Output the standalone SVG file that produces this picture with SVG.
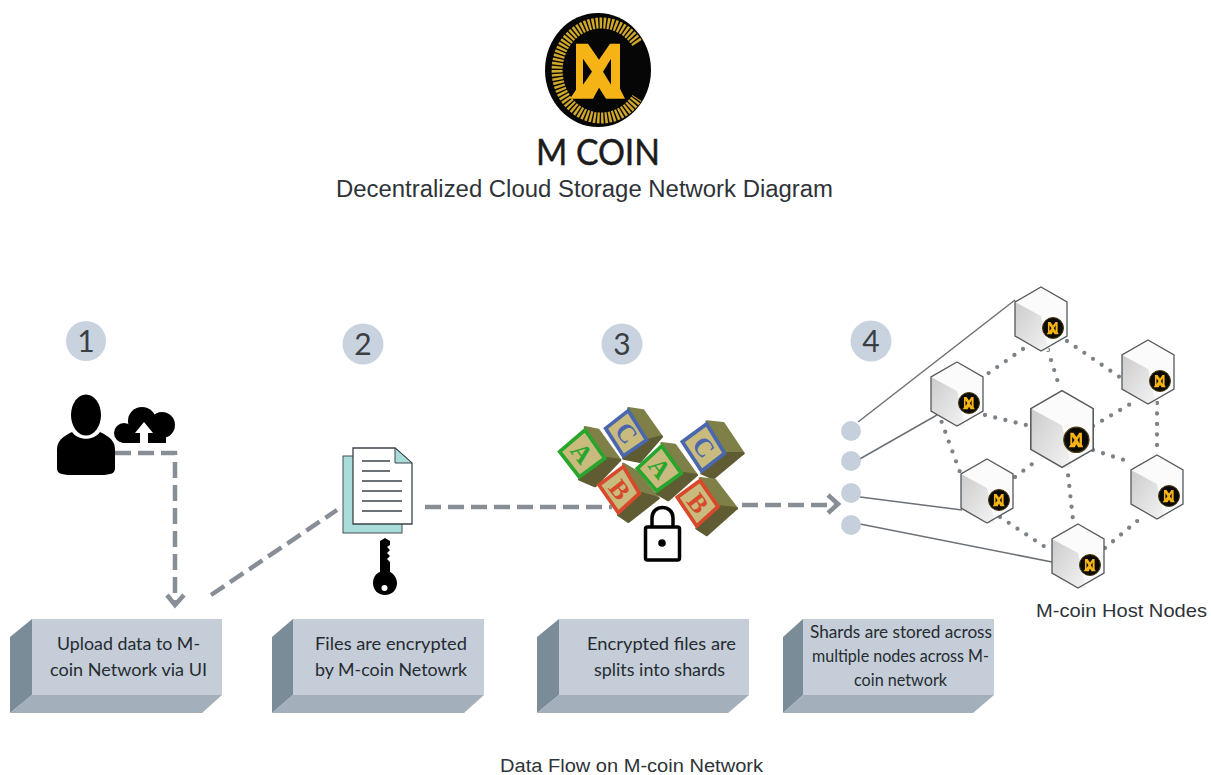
<svg xmlns="http://www.w3.org/2000/svg" width="1211" height="775" viewBox="0 0 1211 775">
<style>
text{font-family:"Liberation Sans",Arial,sans-serif;fill:#2e3338}
.t{text-anchor:middle}
.lab{font-family:Lato,"Open Sans",sans-serif;font-size:18px;text-anchor:middle;fill:#262b30}
.num{font-family:Lato,"Open Sans",sans-serif;font-size:30px;text-anchor:middle;fill:#3a3f44}
.badge{fill:#c9d3df}
.face{fill:#c4cdd8}.side{fill:#7b8c99}.under{fill:#a3afbb}
.flow{fill:none;stroke:#878e95;stroke-width:4.500;stroke-dasharray:16 7}
.head{fill:none;stroke:#878e95;stroke-width:4.500}
.mesh{fill:none;stroke:#7d8287;stroke-width:4.300;stroke-linecap:round;stroke-dasharray:0 10.500}
.wire{fill:none;stroke:#6c7176;stroke-width:1.500}
.port{fill:#c5d0dc}
.blk-text{font-family:"Liberation Serif",serif;font-weight:bold;font-size:78px;text-anchor:middle}
.tan{fill:#c9bb7e}
.r{fill:#7f8048;stroke:#7f8048;stroke-width:8;stroke-linejoin:round}
.u{fill:#5f5c33;stroke:#5f5c33;stroke-width:8;stroke-linejoin:round}
</style>
<defs>
<linearGradient id="cubeL" x1="0" y1="0" x2="1" y2="1"><stop offset="0" stop-color="#cbcbcb"/><stop offset="1" stop-color="#f4f4f4"/></linearGradient>
<g id="mglyph">
<polygon fill="#f5b316" points="-23,-27 -11,-27 0,-11 11,-27 21,-27 21,18 26,28 7,28 0,17 -6,28 -29,28 -23,19"/>
<polygon fill="#050505" points="-16,-12 -7,1 -16,14"/>
<polygon fill="#050505" points="12,-12 4,1 12,14"/>
</g>
<g id="cube">
<polygon points="0,-32 26,-17 26,17 0,32 -26,17 -26,-17" fill="#fbfbfb"/>
<polygon points="-26,-17 0,-3 8,32 0,32 -26,17" fill="url(#cubeL)"/>
<polygon points="0,-32 26,-17 26,17 0,32 -26,17 -26,-17" fill="none" stroke="#55595c" stroke-width="1.300"/>
<circle cx="12" cy="9" r="10.500" fill="#0c0a04" stroke="#4a3c10" stroke-width="1"/>
<use href="#mglyph" transform="translate(12,9) scale(.22)"/>
</g>
</defs>
<rect width="1211" height="775" fill="#fff"/>

<g id="connectors">
<path class="flow" d="M115 453H175V604"/>
<path class="head" d="M167 595L175 605L184 595"/>
<path class="flow" d="M211 595L337 510"/>
<path class="flow" d="M425 507H612"/>
<path class="flow" d="M742 505H836"/>
<path class="head" d="M828 495L838 504L828 513"/>
<path class="wire" d="M858 422L1015 300"/>
<path class="wire" d="M858 460L937 415"/>
<path class="wire" d="M860 497L962 510"/>
<path class="wire" d="M860 524L1052 562"/>
<path class="mesh" d="M1023 349L983 377"/>
<path class="mesh" d="M1048 350L1060 389"/>
<path class="mesh" d="M1067 341L1121 378"/>
<path class="mesh" d="M985 415L1030 426"/>
<path class="mesh" d="M1093 426L1137 400"/>
<path class="mesh" d="M1157 403V455"/>
<path class="mesh" d="M1093 450L1130 462"/>
<path class="mesh" d="M938 412L961 475"/>
<path class="mesh" d="M1015 477L1040 458"/>
<path class="mesh" d="M1067 465L1073 520"/>
<path class="mesh" d="M1000 517L1045 547"/>
<path class="mesh" d="M1105 548L1142 517"/>
</g>

<g id="logo">
<ellipse cx="598" cy="70" rx="53" ry="57" fill="#060606"/>
<path d="M637 43A44 47.500 0 1 0 637 98" fill="none" stroke="#d0a82a" stroke-width="11" stroke-dasharray="2.400 1.400"/>
<use href="#mglyph" transform="translate(599,70.700)"/>
<text x="598" y="165" class="t" style="font-family:Lato,'Open Sans',sans-serif;fill:#1c1c1c;stroke:#1c1c1c;stroke-width:.5" font-size="36" textLength="124" lengthAdjust="spacingAndGlyphs">M COIN</text>
<text x="584.500" y="197" class="t" font-size="23.500" textLength="497" lengthAdjust="spacingAndGlyphs">Decentralized Cloud Storage Network Diagram</text>
</g>

<g id="step1">
<circle class="badge" cx="86" cy="341" r="20"/><text class="num" x="86" y="352">1</text>
<ellipse cx="86" cy="415" rx="15" ry="20.500" fill="#000"/>
<path d="M72 432C78 441 94 441 100 432C110 437 115 441 115 450V468C115 473 112 475 100 475H72C60 475 57 473 57 468V450C57 441 62 437 72 432Z" fill="#000"/>
<circle cx="124" cy="433" r="10" fill="#000"/><circle cx="142" cy="421" r="14" fill="#000"/><circle cx="162" cy="425" r="13" fill="#000"/>
<rect x="122" y="428" width="44" height="15" fill="#000"/>
<path d="M144 422L135 433H140V444H148V433H153Z" fill="#fff"/>
</g>

<g id="step1-label">
<polygon class="side" points="10,637 32,619 32,695 10,713"/>
<polygon class="under" points="10,713 32,695 222,695 202,713"/>
<rect class="face" x="32" y="619" width="190" height="76"/>
<text class="lab" x="128.500" y="650" textLength="143" lengthAdjust="spacingAndGlyphs">Upload data to M-</text>
<text class="lab" x="128.500" y="676" textLength="157" lengthAdjust="spacingAndGlyphs">coin Network via UI</text>
</g>

<g id="step2">
<circle class="badge" cx="363" cy="344" r="20.500"/><text class="num" x="363" y="355">2</text>
<rect x="343" y="456" width="59" height="77" fill="#abdcdc" stroke="#45504f" stroke-width="1"/>
<path d="M353 448H395L412 463V524H353Z" fill="#fff" stroke="#3d4448" stroke-width="1.300"/>
<path d="M395 448L412 463H395Z" fill="#abdcdc" stroke="#3d4448" stroke-width="1"/>
<path d="M362 461H390M362 471H390M362 481H402M362 491H402M362 501H402M362 511H402" stroke="#3d4448" stroke-width="1.300" fill="none"/>
<path d="M380 541L385 538L390 541V545L387 547L390 550L387 553L390 556L387 559L390 562V572C393 573 397 578 397 583C397 590 392 595 385 595C378 595 373 590 373 583C373 578 376 573 380 572Z" fill="#000"/>
<circle cx="384.500" cy="588" r="3" fill="#fff"/>
</g>

<g id="step2-label">
<polygon class="side" points="272,637 293,619 293,695 272,713"/>
<polygon class="under" points="272,713 293,695 484,695 464,713"/>
<rect class="face" x="293" y="619" width="191" height="76"/>
<text class="lab" x="391" y="650" textLength="152" lengthAdjust="spacingAndGlyphs">Files are encrypted</text>
<text class="lab" x="391" y="676" textLength="152" lengthAdjust="spacingAndGlyphs">by M-coin Netowrk</text>
</g>

<g id="step3">
<circle class="badge" cx="622" cy="344" r="20.500"/><text class="num" x="622" y="355">3</text>
<g transform="translate(540,390) scale(.3333)">
<g id="block-c1">
<polygon class="r" points="265,55 310,62 365,140 325,150"/><polygon class="u" points="250,205 300,215 365,140 325,150"/>
<polygon class="tan" points="197,115 265,62 320,150 250,198" stroke="#4a66ad" stroke-width="11"/>
<text class="blk-text" style="fill:#4a66ad" transform="translate(258,130) rotate(52)" y="25">C</text>
</g>
<g id="block-a1">
<polygon class="r" points="135,112 175,120 240,210 200,205"/><polygon class="u" points="118,268 165,288 240,210 200,205"/>
<polygon class="tan" points="59,185 135,120 194,205 118,261" stroke="#27a52c" stroke-width="11"/>
<text class="blk-text" style="fill:#27a52c" transform="translate(125,190) rotate(52)" y="25">A</text>
</g>
<g id="block-b1">
<polygon class="r" points="250,222 290,245 355,325 305,310"/><polygon class="u" points="235,375 265,395 355,325 305,310"/>
<polygon class="tan" points="177,285 250,230 298,310 235,368" stroke="#d8482a" stroke-width="11"/>
<text class="blk-text" style="fill:#d8482a" transform="translate(238,300) rotate(52)" y="25">B</text>
</g>
<g id="block-a2">
<polygon class="r" points="365,160 405,165 470,255 430,250"/><polygon class="u" points="350,310 385,330 470,255 430,250"/>
<polygon class="tan" points="292,235 365,168 424,250 350,303" stroke="#27a52c" stroke-width="11"/>
<text class="blk-text" style="fill:#27a52c" transform="translate(358,235) rotate(52)" y="25">A</text>
</g>
<g id="block-c2">
<polygon class="r" points="500,95 550,100 610,190 560,190"/><polygon class="u" points="485,250 520,265 610,190 560,190"/>
<polygon class="tan" points="427,155 500,102 554,190 485,243" stroke="#4a66ad" stroke-width="11"/>
<text class="blk-text" style="fill:#4a66ad" transform="translate(490,172) rotate(52)" y="25">C</text>
</g>
<g id="block-b2">
<polygon class="r" points="480,265 525,270 590,355 540,350"/><polygon class="u" points="470,415 500,435 590,355 540,350"/>
<polygon class="tan" points="412,322 480,272 534,350 470,408" stroke="#d8482a" stroke-width="11"/>
<text class="blk-text" style="fill:#d8482a" transform="translate(473,340) rotate(52)" y="25">B</text>
</g>
</g>
<rect x="645.500" y="527" width="34" height="33" rx="2" fill="#fff" stroke="#000" stroke-width="3.500"/>
<path d="M652 527V518C652 504 673 504 673 518V527" fill="none" stroke="#000" stroke-width="3.500"/>
<circle cx="662" cy="543" r="3.800" fill="#000"/>
</g>

<g id="step3-label">
<polygon class="side" points="537,637 559,619 559,695 537,713"/>
<polygon class="under" points="537,713 559,695 749,695 728,713"/>
<rect class="face" x="559" y="619" width="190" height="76"/>
<text class="lab" x="661.500" y="650" textLength="149" lengthAdjust="spacingAndGlyphs">Encrypted files are</text>
<text class="lab" x="659.500" y="676" textLength="131" lengthAdjust="spacingAndGlyphs">splits into shards</text>
</g>

<g id="step4">
<circle class="badge" cx="871" cy="341" r="20.500"/><text class="num" x="871" y="352">4</text>
<circle class="port" cx="851" cy="431" r="10"/>
<circle class="port" cx="851" cy="461" r="10"/>
<circle class="port" cx="851" cy="493" r="10"/>
<circle class="port" cx="851" cy="525" r="10"/>
</g>

<g id="step4-label">
<polygon class="side" points="783,637 803,619 803,695 783,713"/>
<polygon class="under" points="783,713 803,695 994,695 973,713"/>
<rect class="face" x="803" y="619" width="191" height="76"/>
<text class="lab" x="901" y="638" textLength="182" lengthAdjust="spacingAndGlyphs">Shards are stored across</text>
<text class="lab" x="900.500" y="662" textLength="177" lengthAdjust="spacingAndGlyphs">multiple nodes across M-</text>
<text class="lab" x="900.500" y="686" textLength="93" lengthAdjust="spacingAndGlyphs">coin network</text>
</g>

<g id="host-nodes">
<g id="host-1"><use href="#cube" transform="translate(1041,319)"/></g>
<g id="host-2"><use href="#cube" transform="translate(1148,372)"/></g>
<g id="host-3"><use href="#cube" transform="translate(957,394)"/></g>
<g id="host-4"><use href="#cube" transform="translate(1062,429) scale(1.2)"/></g>
<g id="host-5"><use href="#cube" transform="translate(987,491)"/></g>
<g id="host-6"><use href="#cube" transform="translate(1157,487)"/></g>
<g id="host-7"><use href="#cube" transform="translate(1078,556)"/></g>
<text x="1121.500" y="617" class="t" font-size="18.500" textLength="171" lengthAdjust="spacingAndGlyphs">M-coin Host Nodes</text>
</g>

<text id="caption" x="631.500" y="772" class="t" font-size="18" textLength="263" lengthAdjust="spacingAndGlyphs">Data Flow on M-coin Network</text>
</svg>
